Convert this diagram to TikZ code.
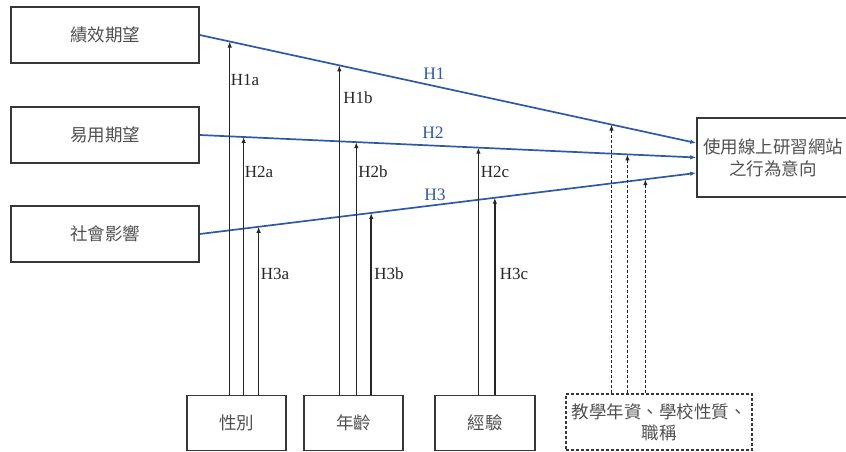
\documentclass[tikz,border=0pt]{standalone}
\usepackage{fontspec}
\setmainfont{Liberation Serif}
\newfontfamily\cjk{Noto Sans CJK TC}
\usetikzlibrary{arrows.meta,calc}
\definecolor{hblue}{RGB}{46,88,168}
\definecolor{boxgray}{RGB}{55,55,55}
\definecolor{txtgray}{RGB}{80,80,80}
\tikzset{
  cbox/.style={draw=boxgray,line width=1.6pt,inner sep=0pt,align=center,
    font=\cjk\fontsize{17.5}{22}\selectfont,text=txtgray},
  dbox/.style={cbox,dash pattern=on 3pt off 2pt},
  hyp/.style={draw=hblue,line width=1.7pt,-{Latex[length=6pt,width=4.5pt]}},
  mod/.style={draw=black!85,line width=1.5pt,-{Latex[length=6pt,width=4.5pt]}},
  dmod/.style={mod,dash pattern=on 3pt off 2pt},
  hlab/.style={font=\fontsize{17.5}{20}\selectfont,text=hblue},
  mlab/.style={font=\fontsize{17}{20}\selectfont,text=black!85}
}
\begin{document}
\begin{tikzpicture}[x=1pt,y=-1pt]
\useasboundingbox (0,0) rectangle (846,452);
% left boxes
\node[cbox,minimum width=188pt,minimum height=56pt] (b1) at (105,35) {績效期望};
\node[cbox,minimum width=188pt,minimum height=56pt] (b2) at (105,135) {易用期望};
\node[cbox,minimum width=188pt,minimum height=56pt] (b3) at (105,234) {社會影響};
% target
\node[cbox,minimum width=152pt,minimum height=79pt] (t) at (773,157.5) {使用線上研習網站\\之行為意向};
% bottom boxes
\node[cbox,minimum width=99pt,minimum height=55pt] (g) at (236.5,423) {性別};
\node[cbox,minimum width=99pt,minimum height=55pt] (a) at (353.5,423) {年齡};
\node[cbox,minimum width=100pt,minimum height=55pt] (e) at (485,423) {經驗};
\node[dbox,minimum width=186pt,minimum height=56pt,font=\cjk\fontsize{17.5}{21}\selectfont] (o) at (659,422) {教學年資、學校性質、\\職稱};
% blue line end points
\coordinate (e1) at ([yshift=14.5pt]t.west);
\coordinate (e2) at (t.west);
\coordinate (e3) at ([yshift=-15.5pt]t.west);
\draw[hyp] (b1.east) -- (e1);
\draw[hyp] (b2.east) -- (e2);
\draw[hyp] (b3.east) -- (e3);
\node[hlab] (l1) at (434,74) {H1};
\node[hlab] (l2) at (433,133) {H2};
\node[hlab] (l3) at (435,195) {H3};
% tips on blue lines
\coordinate (p1a) at ($(b1.east)!{(229-199)/498}!(e1)$);
\coordinate (p2a) at ($(b2.east)!{(243-199)/498}!(e2)$);
\coordinate (p3a) at ($(b3.east)!{(258-199)/498}!(e3)$);
\coordinate (p1b) at ($(b1.east)!{(339-199)/498}!(e1)$);
\coordinate (p2b) at ($(b2.east)!{(356-199)/498}!(e2)$);
\coordinate (p3b) at ($(b3.east)!{(371-199)/498}!(e3)$);
\coordinate (p2c) at ($(b2.east)!{(478.5-199)/498}!(e2)$);
\coordinate (p3c) at ($(b3.east)!{(495-199)/498}!(e3)$);
\coordinate (p1d) at ($(b1.east)!{(612-199)/498}!(e1)$);
\coordinate (p2d) at ($(b2.east)!{(628-199)/498}!(e2)$);
\coordinate (p3d) at ($(b3.east)!{(646-199)/498}!(e3)$);
% moderator arrows
\draw[mod] (p1a |- g.north) -- (p1a);
\draw[mod] (p2a |- g.north) -- (p2a);
\draw[mod] (p3a |- g.north) -- (p3a);
\draw[mod] (p1b |- a.north) -- (p1b);
\draw[mod] (p2b |- a.north) -- (p2b);
\draw[mod] (p3b |- a.north) -- (p3b);
\draw[mod] (p2c |- e.north) -- (p2c);
\draw[mod] (p3c |- e.north) -- (p3c);
\draw[dmod] (p1d |- o.north) -- (p1d);
\draw[dmod] (p2d |- o.north) -- (p2d);
\draw[dmod] (p3d |- o.north) -- (p3d);
% labels
\node[mlab] (m1a) at (245,80) {H1a};
\node[mlab] (m2a) at (259,172) {H2a};
\node[mlab] (m3a) at (275,274) {H3a};
\node[mlab] (m1b) at (358,98) {H1b};
\node[mlab] (m2b) at (373,172) {H2b};
\node[mlab] (m3b) at (389,274) {H3b};
\node[mlab] (m2c) at (495,172) {H2c};
\node[mlab] (m3c) at (514,274) {H3c};
\end{tikzpicture}
\end{document}
